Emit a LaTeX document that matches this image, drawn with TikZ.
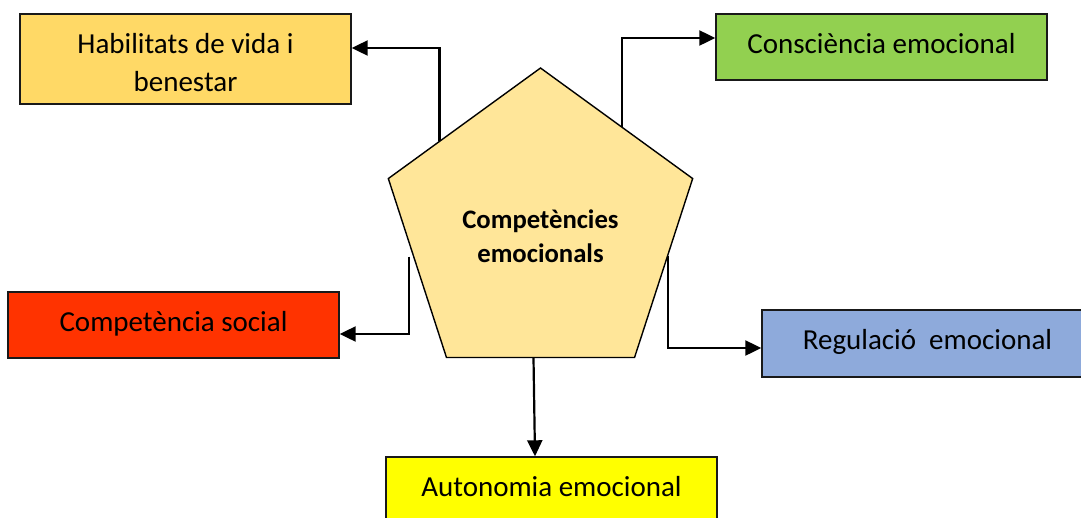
\documentclass[tikz,border=0pt]{standalone}
\usepackage{fontspec}
\setmainfont{Carlito}
\usetikzlibrary{shapes.geometric,arrows.meta,calc}
\definecolor{habfill}{HTML}{FFD966}
\definecolor{consfill}{HTML}{92D050}
\definecolor{socfill}{HTML}{FF3300}
\definecolor{regfill}{HTML}{8EAADB}
\definecolor{autofill}{HTML}{FFFF00}
\definecolor{pentfill}{HTML}{FFE699}
\begin{document}
\begin{tikzpicture}[x=1pt,y=-1pt,
  box/.style={draw=black!90, line width=1.4pt, rectangle, inner sep=0pt,
    minimum width=331pt, minimum height=66pt,
    text height=19pt, text depth=7pt, font=\fontsize{29}{38.5}\selectfont},
  link/.style={draw=black, line width=2.2pt, -{Triangle[length=16pt,width=15pt]}}]
\useasboundingbox (0,0) rectangle (1081,517);
\clip (0,0) rectangle (1081,517);

% central pentagon
\node[regular polygon, regular polygon sides=5, minimum size=320pt, inner sep=0pt,
  draw=black, line width=1.4pt, fill=pentfill, align=center,
  font=\bfseries\fontsize{26.7}{34}\selectfont, text height=68pt, text depth=0pt]
  (pent) at (540.5,228) {Competències\\emocionals};

% outer boxes
\node[box, fill=habfill, minimum height=90pt, align=center,
  text height=65pt, text depth=0pt] (hab) at (185.5,59) {Habilitats de vida i\\benestar};
\node[box, fill=consfill] (cons) at (881.5,47) {Consciència emocional};
\node[box, fill=socfill] (soc) at (173.5,325) {Competència social};
\node[box, fill=regfill, minimum height=67pt] (reg) at (927.5,343.5) {Regulació\ \ emocional};
\node[box, fill=autofill] (auto) at (551.5,490) {Autonomia emocional};

% connectors
\draw[link] ($(pent.corner 1)!0.66!(pent.corner 2)$) |- ([yshift=11pt]hab.east);
\draw[link] ($(pent.corner 1)!0.535!(pent.corner 5)$) |- ([yshift=9pt]cons.west);
\draw[link] ([xshift=-4pt]$(pent.corner 2)!0.436!(pent.corner 3)$) |- ([yshift=-9pt]soc.east);
\draw[link] ($(pent.corner 5)!0.43!(pent.corner 4)$) |- ([yshift=-4.5pt]reg.west);
\draw[link] ([xshift=-7pt]pent.side 3) -- ([xshift=-16.5pt]auto.north);
\end{tikzpicture}
\end{document}
